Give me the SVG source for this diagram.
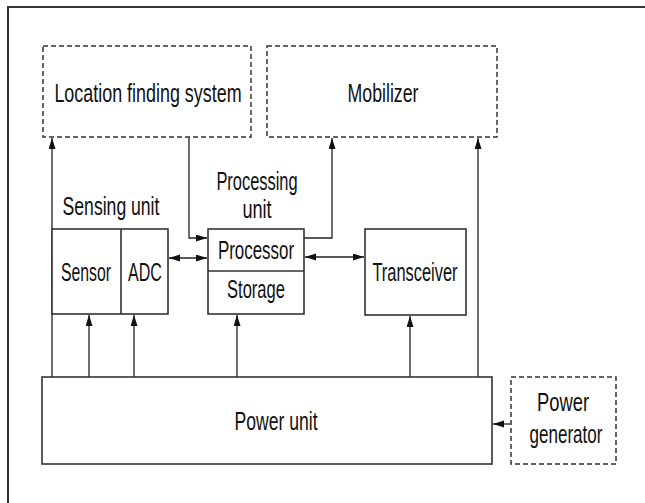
<svg xmlns="http://www.w3.org/2000/svg" width="645" height="503" viewBox="0 0 645 503">
  <style>
    .box { fill: #ffffff; stroke: #333333; stroke-width: 1.6; }
    .dash { fill: #ffffff; stroke: #333333; stroke-width: 1.5; stroke-dasharray: 5 3; }
    .wire { fill: none; stroke: #222222; stroke-width: 1.3; }
    .frame { fill: none; stroke: #333333; stroke-width: 2; }
    text { font-family: "Liberation Sans", Arial, sans-serif; font-size: 26px; fill: #111111; text-anchor: middle; }
  </style>
  <defs>
    <marker id="head" markerUnits="userSpaceOnUse" markerWidth="12" markerHeight="8" refX="11" refY="3.5" orient="auto-start-reverse">
      <path d="M0,0 L11,3.5 L0,7 z" fill="#111111"/>
    </marker>
  </defs>

  <!-- outer frame: top and left edges only -->
  <path class="frame" d="M8,503 L8,7 L645,7"/>

  <!-- connectors -->
  <g id="connectors">
    <path class="wire" d="M52,377 L52,138" marker-end="url(#head)"/>
    <path class="wire" d="M189,137 L189,238 L207,238" marker-end="url(#head)"/>
    <path class="wire" d="M304,238 L332,238 L332,138" marker-end="url(#head)"/>
    <path class="wire" d="M478,377 L478,138" marker-end="url(#head)"/>
    <path class="wire" d="M169,258 L207,258" marker-start="url(#head)" marker-end="url(#head)"/>
    <path class="wire" d="M305,257 L364,257" marker-start="url(#head)" marker-end="url(#head)"/>
    <path class="wire" d="M89,377 L89,315" marker-end="url(#head)"/>
    <path class="wire" d="M134,377 L134,315" marker-end="url(#head)"/>
    <path class="wire" d="M237,377 L237,315" marker-end="url(#head)"/>
    <path class="wire" d="M410,377 L410,316" marker-end="url(#head)"/>
    <path class="wire" d="M511,424 L493,424" marker-end="url(#head)"/>
  </g>

  <!-- labels use a horizontally condensed sans: scale(0.65,1) -->
  <g id="location">
    <rect class="dash" x="43" y="46" width="208" height="91"/>
    <text transform="translate(148,102) scale(0.65,1)" textLength="288" lengthAdjust="spacingAndGlyphs">Location finding system</text>
  </g>

  <g id="mobilizer">
    <rect class="dash" x="267" y="46" width="230" height="91"/>
    <text transform="translate(383,102) scale(0.65,1)" textLength="109" lengthAdjust="spacingAndGlyphs">Mobilizer</text>
  </g>

  <g id="sensing-unit">
    <text transform="translate(111,215) scale(0.65,1)" textLength="149" lengthAdjust="spacingAndGlyphs">Sensing unit</text>
    <rect class="box" x="52" y="229" width="116" height="85"/>
    <line class="box" x1="121" y1="229" x2="121" y2="314"/>
    <text transform="translate(86,281) scale(0.65,1)" textLength="77" lengthAdjust="spacingAndGlyphs">Sensor</text>
    <text transform="translate(145,281) scale(0.65,1)" textLength="52" lengthAdjust="spacingAndGlyphs">ADC</text>
  </g>

  <g id="processing-unit">
    <text transform="translate(257,190) scale(0.65,1)" textLength="125" lengthAdjust="spacingAndGlyphs">Processing</text>
    <text transform="translate(257,218) scale(0.65,1)" textLength="45" lengthAdjust="spacingAndGlyphs">unit</text>
    <rect class="box" x="208" y="229" width="96" height="85"/>
    <line class="box" x1="208" y1="271" x2="304" y2="271"/>
    <text transform="translate(256,259) scale(0.65,1)" textLength="117" lengthAdjust="spacingAndGlyphs">Processor</text>
    <text transform="translate(256,298) scale(0.65,1)" textLength="89" lengthAdjust="spacingAndGlyphs">Storage</text>
  </g>

  <g id="transceiver">
    <rect class="box" x="365" y="229" width="101" height="86"/>
    <text transform="translate(415,281) scale(0.65,1)" textLength="131" lengthAdjust="spacingAndGlyphs">Transceiver</text>
  </g>

  <g id="power-unit">
    <rect class="box" x="42" y="377" width="450" height="87"/>
    <text transform="translate(276,430) scale(0.65,1)" textLength="128" lengthAdjust="spacingAndGlyphs">Power unit</text>
  </g>

  <g id="power-generator">
    <rect class="dash" x="511" y="377" width="105" height="87"/>
    <text transform="translate(563,411) scale(0.65,1)" textLength="80" lengthAdjust="spacingAndGlyphs">Power</text>
    <text transform="translate(566,443) scale(0.65,1)" textLength="112" lengthAdjust="spacingAndGlyphs">generator</text>
  </g>
</svg>
